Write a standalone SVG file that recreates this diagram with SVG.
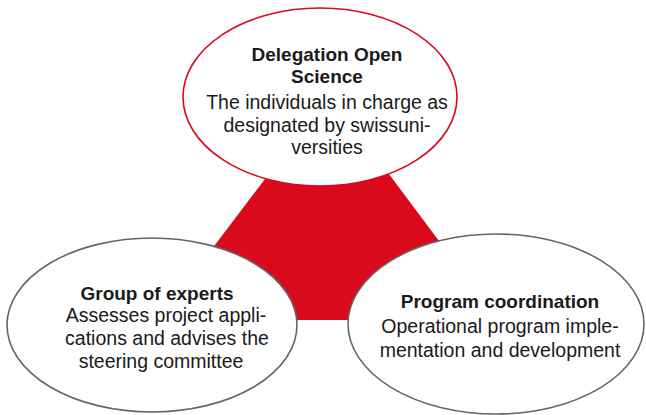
<svg xmlns="http://www.w3.org/2000/svg" width="646" height="415" viewBox="0 0 646 415">
<style>
.node{fill:#fff;stroke:#666;stroke-width:1.6}
.red{stroke:#d90a1c}
.h{font-family:"Liberation Sans",Arial,sans-serif;font-weight:bold;font-size:19px;fill:#1a1a1a;text-anchor:middle}
.b{font-family:"Liberation Sans",Arial,sans-serif;font-size:19.5px;fill:#1a1a1a;text-anchor:middle}
</style>
<rect width="646" height="415" fill="#fff"/>
<g id="connectors">
<polygon points="287,150 371,150 498,320 158,320" fill="#d90a1c"/>
</g>
<g id="delegation">
<ellipse class="node red" cx="320" cy="97" rx="137" ry="89"/>
<text class="h" x="327" y="61">Delegation Open</text>
<text class="h" x="327" y="83">Science</text>
<text class="b" x="327" y="109">The individuals in charge as</text>
<text class="b" x="327" y="132">designated by swissuni-</text>
<text class="b" x="327" y="154">versities</text>
</g>
<g id="experts">
<ellipse class="node" cx="152" cy="325" rx="145" ry="87"/>
<text class="h" x="157" y="300">Group of experts</text>
<text class="b" x="166" y="322">Assesses project appli-</text>
<text class="b" x="167" y="345">cations and advises the</text>
<text class="b" x="161" y="368">steering committee</text>
</g>
<g id="coordination">
<ellipse class="node" cx="496" cy="324" rx="148" ry="90"/>
<text class="h" x="500" y="308">Program coordination</text>
<text class="b" x="500" y="333">Operational program imple-</text>
<text class="b" x="500" y="357">mentation and development</text>
</g>
</svg>
